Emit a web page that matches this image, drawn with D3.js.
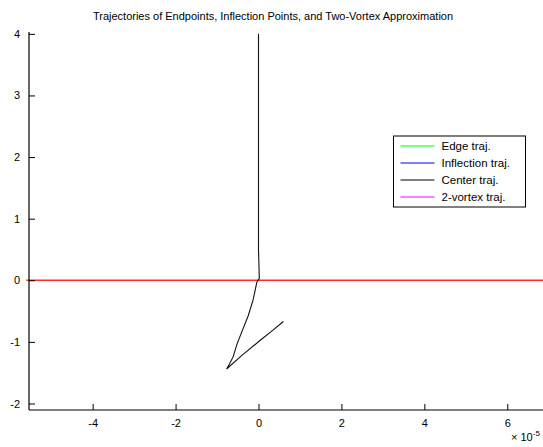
<!DOCTYPE html>
<html>
<head>
<meta charset="utf-8">
<script src="https://cdn.jsdelivr.net/npm/d3@7"></script>
<style>
  html, body { margin: 0; padding: 0; background: #fff; }
  svg { display: block; font-family: "Liberation Sans", Arial, Helvetica, sans-serif; }
</style>
</head>
<body>
<svg id="chart" width="543" height="447"></svg>
<script>
// Axis tick values (x in units of 1e-5)
const xTicks = [-4, -2, 0, 2, 4, 6];
const yTicks = [-2, -1, 0, 1, 2, 3, 4];

// Center trajectory (x in units of 1e-5)
const centerX = [0, 0, 0.02, -0.04, -0.13, -0.25, -0.41, -0.52, -0.61, -0.70, -0.77, -0.40, 0.05, 0.35, 0.60];
const centerY = [4.0, 0.5, 0.03, -0.03, -0.32, -0.58, -0.85, -1.04, -1.24, -1.36, -1.44, -1.22, -0.97, -0.81, -0.67];

// Horizontal reference trajectory at y = 0
const refX = [-5.6, 7.0];
const refY = [0, 0];

// Legend entries
const legendLabels = ["Edge traj.", "Inflection traj.", "Center traj.", "2-vortex traj."];
const legendColors = ["#00ff00", "#0000ff", "#000000", "#ff00ff"];

const svg = d3.select("#chart");
const plotLeft = 29, plotRight = 545, plotTop = 32, plotBottom = 410;

const x = d3.scaleLinear().domain([-5.535, 6.91]).range([plotLeft, plotRight]);
const y = d3.scaleLinear().domain([-2.106, 4.03]).range([plotBottom, plotTop]);

// Title
svg.append("text")
  .attr("x", 273).attr("y", 20)
  .attr("text-anchor", "middle")
  .attr("font-size", 11)
  .text("Trajectories of Endpoints, Inflection Points, and Two-Vortex Approximation");

const line = d3.line().x(d => x(d[0])).y(d => y(d[1]));

// Reference line at zero
svg.append("path")
  .datum(refX.map((v, i) => [v, refY[i]]))
  .attr("d", line)
  .attr("fill", "none")
  .attr("stroke", "#ff2a2a")
  .attr("stroke-width", 1.3);

// Center trajectory
svg.append("path")
  .datum(centerX.map((v, i) => [v, centerY[i]]))
  .attr("d", line)
  .attr("fill", "none")
  .attr("stroke", "#111")
  .attr("stroke-width", 1.1);

// Integer tick labels with a plain hyphen for negatives
const fmt = d => String(d);

// Axes
const xAxis = d3.axisBottom(x).tickValues(xTicks).tickFormat(fmt).tickSizeInner(-6).tickSizeOuter(0).tickPadding(9);
const yAxis = d3.axisLeft(y).tickValues(yTicks).tickFormat(fmt).tickSizeInner(-6).tickSizeOuter(0).tickPadding(9);

const gx = svg.append("g").attr("transform", `translate(0,${plotBottom})`).call(xAxis);
const gy = svg.append("g").attr("transform", `translate(${plotLeft},0)`).call(yAxis);

[gx, gy].forEach(g => {
  g.select(".domain").attr("stroke", "#000").attr("stroke-width", 1.2);
  g.selectAll(".tick line").attr("stroke", "#000");
  g.selectAll(".tick text").attr("font-size", 11).attr("fill", "#000")
    .attr("font-family", "Liberation Sans, Arial, sans-serif");
});
// axis lines drawn from scale range
gx.select(".domain").attr("d", `M${plotLeft},0H${plotRight}`);
gy.select(".domain").attr("d", `M0,${plotBottom}V${plotTop}`);

// Exponent label for x axis
const expo = svg.append("text")
  .attr("x", 511).attr("y", 441)
  .attr("font-size", 11)
  .attr("fill", "#000");
expo.append("tspan").text("× 10");
expo.append("tspan").attr("dy", -5).attr("font-size", 8).text("-5");

// Legend
const lg = svg.append("g").attr("transform", "translate(393.5,136)");
lg.append("rect")
  .attr("width", 132).attr("height", 71)
  .attr("fill", "#fff").attr("stroke", "#000").attr("stroke-width", 1);
legendLabels.forEach((lab, i) => {
  const yy = 10 + i * 17;
  lg.append("line")
    .attr("x1", 7).attr("x2", 41).attr("y1", yy).attr("y2", yy)
    .attr("stroke", legendColors[i]).attr("stroke-width", 1.2);
  lg.append("text")
    .attr("x", 48).attr("y", yy + 4)
    .attr("font-size", 11.5).attr("fill", "#000")
    .text(lab);
});
</script>
</body>
</html>
